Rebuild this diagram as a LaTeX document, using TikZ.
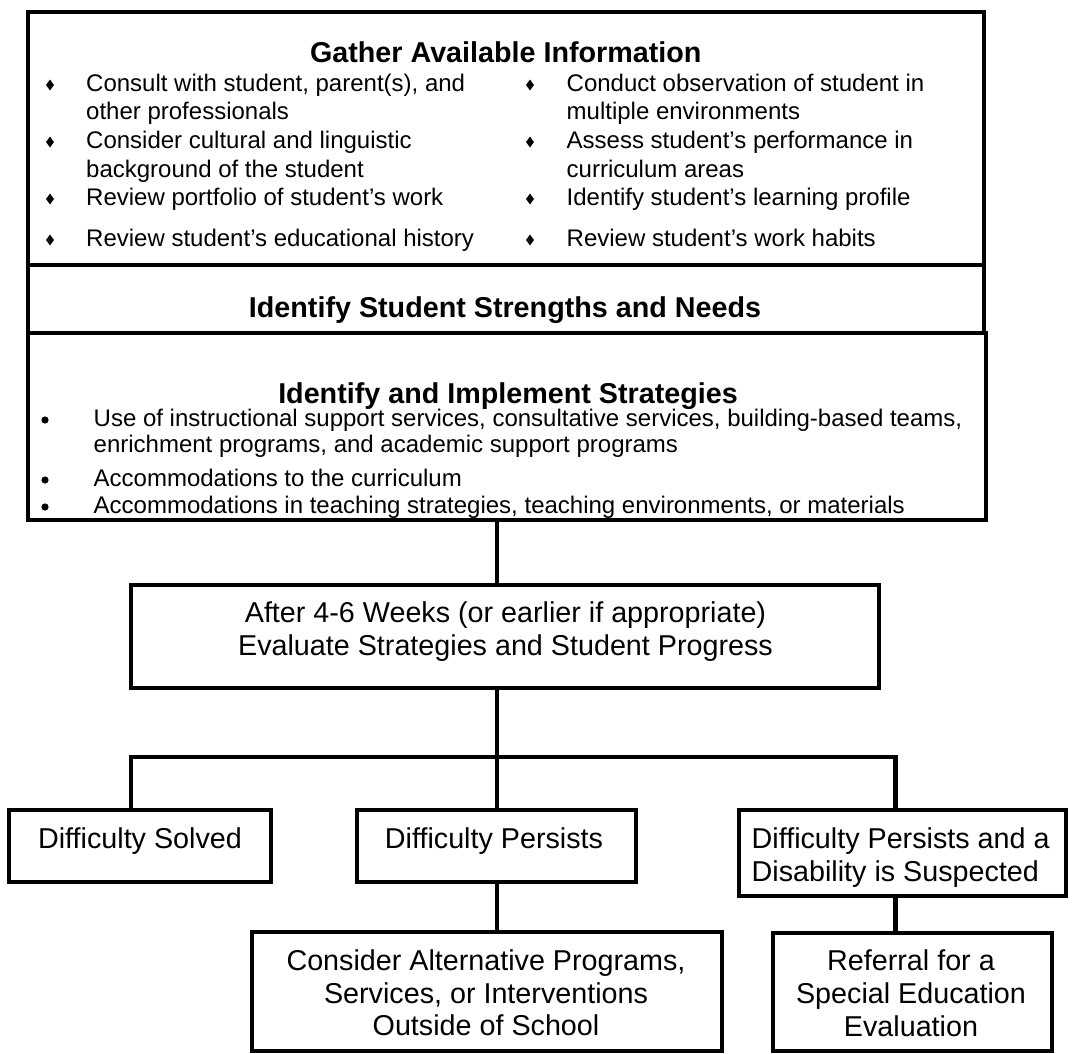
\documentclass[tikz,border=0pt]{standalone}
\usepackage{fontspec}
\setmainfont{Liberation Sans}
\usetikzlibrary{shapes.geometric}

\newcommand{\gfList}{\fontsize{6.83}{7.97}\selectfont}
\newcommand{\gfHead}{\fontsize{8.17}{9.4}\selectfont\bfseries}
\newcommand{\gfFlow}{\fontsize{8.17}{9.4}\selectfont}

\begin{document}
\begin{tikzpicture}[scale=0.1,
		chartbox/.style={draw=black, line width=1.2pt},
		listtext/.style={font=\gfList, anchor=base west},
		headtext/.style={font=\gfHead, anchor=base},
		flowtext/.style={font=\gfFlow, anchor=base},
		diabullet/.style={diamond, fill=black, minimum width=0.85mm, minimum height=1.15mm},
		roundbullet/.style={circle, fill=black, minimum size=0.72mm}]
			\tikzstyle{every node}+=[inner sep=0pt]
			\useasboundingbox (0,0) rectangle (107.6,-105.3);
			% boxes
			\node [chartbox, minimum width=95.64mm, minimum height=25.3mm] (gather) at (50.58,-13.85) {};
			\node [chartbox, minimum width=95.64mm, minimum height=6.8mm] (needs) at (50.58,-29.9) {};
			\node [chartbox, minimum width=95.84mm, minimum height=18.7mm] (implement) at (50.68,-42.65) {};
			\node [chartbox, minimum width=74.8mm, minimum height=10.3mm] (evaluate) at (50.5,-63.65) {};
			\node [chartbox, minimum width=26.2mm, minimum height=7.2mm] (solved) at (14,-84.6) {};
			\node [chartbox, minimum width=27.9mm, minimum height=7.2mm] (persists) at (49.65,-84.6) {};
			\node [chartbox, minimum width=32.7mm, minimum height=8.6mm] (suspected) at (90.25,-85.3) {};
			\node [chartbox, minimum width=47mm, minimum height=11.9mm] (consider) at (48.7,-99.15) {};
			\node [chartbox, minimum width=27.9mm, minimum height=11.8mm] (referral) at (91.25,-99.2) {};
			% gather available information
			\node [headtext] (gatherhead) at (50.58,-6.2) {Gather Available Information};
			\node [diabullet] (ga) at (5,-8.5) {};
			\node [listtext] (ga1) at (8.55,-9.1) {Consult with student, parent(s), and};
			\node [listtext] (ga2) at (8.55,-11.9) {other professionals};
			\node [diabullet] (gb) at (5,-14.2) {};
			\node [listtext] (gb1) at (8.55,-14.8) {Consider cultural and linguistic};
			\node [listtext] (gb2) at (8.55,-17.7) {background of the student};
			\node [diabullet] (gc) at (5,-19.9) {};
			\node [listtext] (gc1) at (8.55,-20.5) {Review portfolio of student’s work};
			\node [diabullet] (gd) at (5,-24) {};
			\node [listtext] (gd1) at (8.55,-24.6) {Review student’s educational history};
			\node [diabullet] (ge) at (53,-8.5) {};
			\node [listtext] (ge1) at (56.6,-9.1) {Conduct observation of student in};
			\node [listtext] (ge2) at (56.6,-11.9) {multiple environments};
			\node [diabullet] (gf) at (53,-14.2) {};
			\node [listtext] (gf1) at (56.6,-14.8) {Assess student’s performance in};
			\node [listtext] (gf2) at (56.6,-17.7) {curriculum areas};
			\node [diabullet] (gg) at (53,-19.9) {};
			\node [listtext] (gg1) at (56.6,-20.5) {Identify student’s learning profile};
			\node [diabullet] (gh) at (53,-24) {};
			\node [listtext] (gh1) at (56.6,-24.6) {Review student’s work habits};
			% strengths and needs
			\node [headtext] (needshead) at (50.5,-31.7) {Identify Student Strengths and Needs};
			% strategies
			\node [headtext] (implhead) at (50.8,-40.3) {Identify and Implement Strategies};
			\node [roundbullet] (ia) at (4.5,-42) {};
			\node [listtext] (ia1) at (9.3,-42.6) {Use of instructional support services, consultative services, building-based teams,};
			\node [listtext] (ia2) at (9.3,-45.2) {enrichment programs, and academic support programs};
			\node [roundbullet] (ib) at (4.5,-48) {};
			\node [listtext] (ib1) at (9.3,-48.6) {Accommodations to the curriculum};
			\node [roundbullet] (ic) at (4.5,-50.7) {};
			\node [listtext] (ic1) at (9.3,-51.3) {Accommodations in teaching strategies, teaching environments, or materials};
			% flow boxes
			\node [flowtext] (eval1) at (50.55,-62.2) {After 4-6 Weeks (or earlier if appropriate)};
			\node [flowtext] (eval2) at (50.55,-65.5) {Evaluate Strategies and Student Progress};
			\node [flowtext] (solv1) at (14,-84.8) {Difficulty Solved};
			\node [flowtext] (pers1) at (49.4,-84.8) {Difficulty Persists};
			\node [flowtext, anchor=base west] (susp1) at (75.1,-84.8) {Difficulty Persists and a};
			\node [flowtext, anchor=base west] (susp2) at (75.1,-88.1) {Disability is Suspected};
			\node [flowtext] (cons1) at (48.6,-97) {Consider Alternative Programs,};
			\node [flowtext] (cons2) at (48.6,-100.3) {Services, or Interventions};
			\node [flowtext] (cons3) at (48.6,-103.5) {Outside of School};
			\node [flowtext] (refe1) at (91.1,-97) {Referral for a};
			\node [flowtext] (refe2) at (91.1,-100.3) {Special Education};
			\node [flowtext] (refe3) at (91.1,-103.6) {Evaluation};
			% connectors
			\coordinate (split) at (49.7,-75.7);
			\coordinate (dropL) at (13.1,-75.7);
			\coordinate (dropR) at (89.55,-75.7);
			\draw [black, line width=1.2pt] (implement.south -| split) -- (evaluate.north -| split);
			\draw [black, line width=1.2pt] (evaluate.south -| split) -- (persists.north -| split);
			\draw [black, line width=1.2pt] (dropL |- solved.north) -- (dropL) -- (dropR) -- (dropR |- suspected.north);
			\draw [black, line width=1.2pt] (persists.south -| split) -- (consider.north -| split);
			\draw [black, line width=1.2pt] (suspected.south -| dropR) -- (referral.north -| dropR);
		\end{tikzpicture}
\end{document}
